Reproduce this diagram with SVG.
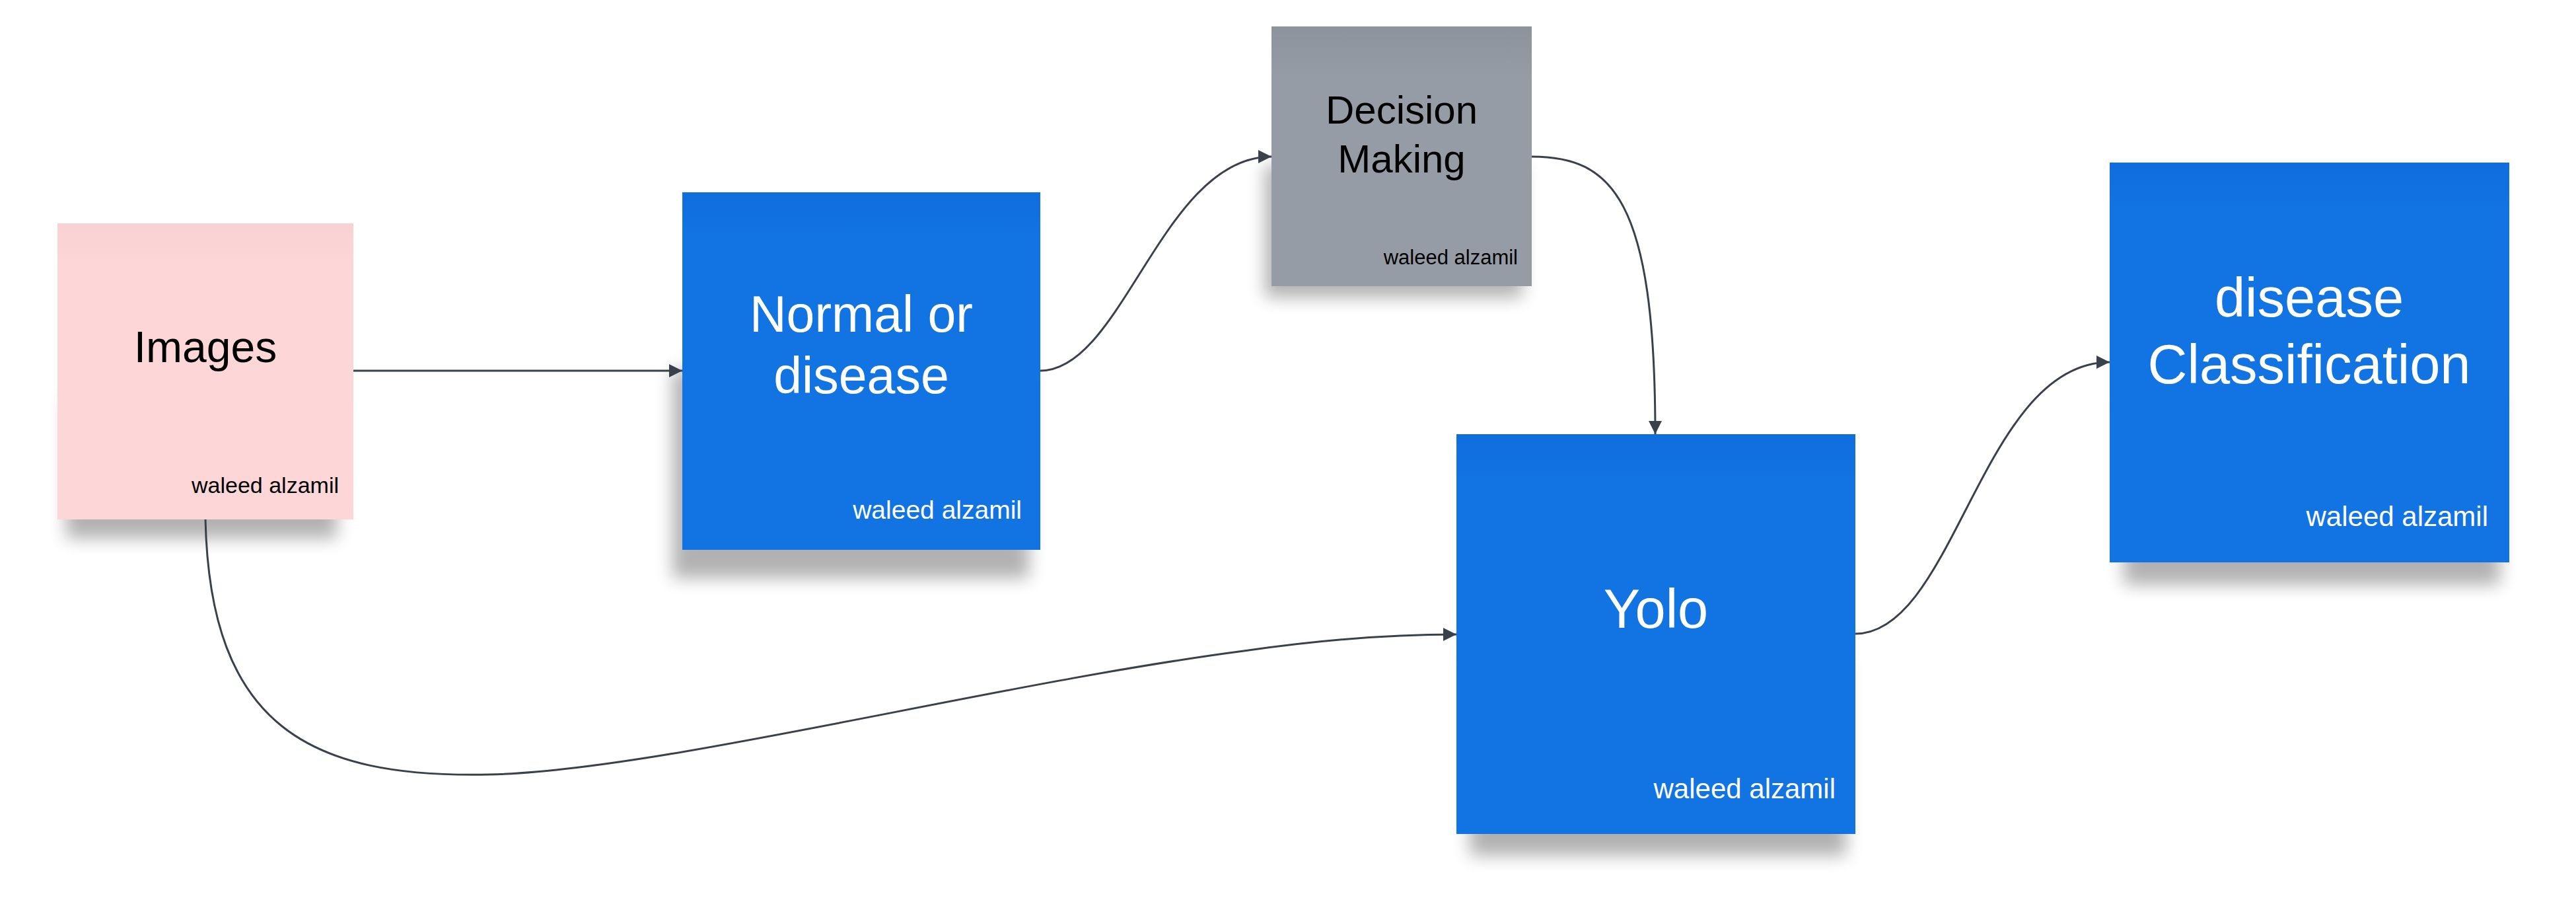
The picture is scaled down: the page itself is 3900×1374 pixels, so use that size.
<svg xmlns="http://www.w3.org/2000/svg" width="3900" height="1374" viewBox="0 0 3900 1374">
<style>
.title{font-family:"Liberation Sans",Arial,sans-serif;text-anchor:middle}
.sig{font-family:"Liberation Sans",Arial,sans-serif;text-anchor:end}
.w{fill:#ffffff}
.k{fill:#000000}
.conn{fill:none;stroke:#3a414a;stroke-width:3}
.shadow{fill:#000;opacity:0.3;filter:url(#blur)}
</style>
<defs>
<filter id="blur" x="-20%" y="-20%" width="140%" height="140%"><feGaussianBlur stdDeviation="13"/></filter>
<linearGradient id="gBlue" x1="0" y1="0" x2="0" y2="1"><stop offset="0" stop-color="#106ddd"/><stop offset="0.12" stop-color="#1273e3"/><stop offset="1" stop-color="#1273e3"/></linearGradient>
<linearGradient id="gPink" x1="0" y1="0" x2="0" y2="1"><stop offset="0" stop-color="#f8d2d3"/><stop offset="0.15" stop-color="#fdd7d8"/><stop offset="1" stop-color="#fdd7d8"/></linearGradient>
<linearGradient id="gGray" x1="0" y1="0" x2="0" y2="1"><stop offset="0" stop-color="#8c939c"/><stop offset="0.2" stop-color="#969ca5"/><stop offset="1" stop-color="#969ca5"/></linearGradient>
<marker id="arr" viewBox="0 0 20 20" refX="20" refY="10" markerWidth="20" markerHeight="20" markerUnits="userSpaceOnUse" orient="auto"><path d="M0,0 L20,10 L0,20 Z" fill="#3a414a"/></marker>
</defs>

<g id="node-images">
<rect class="shadow" x="100" y="600" width="410" height="215"/>
<rect x="87" y="338" width="448" height="448" fill="url(#gPink)"/>
<text class="title k" x="311" y="548" font-size="66">Images</text>
<text class="sig k" x="513" y="746" font-size="34">waleed alzamil</text>
</g>

<g id="node-normal">
<rect class="shadow" x="1018" y="560" width="540" height="315"/>
<rect x="1033" y="291" width="542" height="541" fill="url(#gBlue)"/>
<text class="title w" font-size="77"><tspan x="1304" y="502">Normal or</tspan><tspan x="1304" y="595">disease</tspan></text>
<text class="sig w" x="1547" y="785" font-size="39">waleed alzamil</text>
</g>

<g id="node-decision">
<rect class="shadow" x="1915" y="250" width="390" height="200"/>
<rect x="1925" y="40" width="394" height="393" fill="url(#gGray)"/>
<text class="title k" font-size="60"><tspan x="2122" y="187">Decision</tspan><tspan x="2122" y="261">Making</tspan></text>
<text class="sig k" x="2298" y="400" font-size="31">waleed alzamil</text>
</g>

<g id="node-yolo">
<rect class="shadow" x="2225" y="1000" width="570" height="295"/>
<rect x="2205" y="657" width="604" height="605" fill="url(#gBlue)"/>
<text class="title w" x="2507" y="950" font-size="83">Yolo</text>
<text class="sig w" x="2779" y="1208" font-size="42">waleed alzamil</text>
</g>

<g id="node-classification">
<rect class="shadow" x="3215" y="600" width="570" height="285"/>
<rect x="3194" y="246" width="605" height="605" fill="url(#gBlue)"/>
<text class="title w" font-size="83"><tspan x="3496" y="479">disease</tspan><tspan x="3496" y="580">Classification</tspan></text>
<text class="sig w" x="3767" y="796" font-size="42">waleed alzamil</text>
</g>

<g id="connectors">
<path class="conn" d="M535,561 L1033,561" marker-end="url(#arr)"/>
<path class="conn" d="M1575,561 C1700,561 1760,237 1925,237" marker-end="url(#arr)"/>
<path class="conn" d="M2319,237 C2440,237 2506,300 2506,657" marker-end="url(#arr)"/>
<path class="conn" d="M311,786 C318,1100 470,1178 741,1172 C1000,1166 1500,1035 1883,985 C2000,968 2100,960 2205,960" marker-end="url(#arr)"/>
<path class="conn" d="M2809,959 C2960,959 3000,548 3194,548" marker-end="url(#arr)"/>
</g>
</svg>
